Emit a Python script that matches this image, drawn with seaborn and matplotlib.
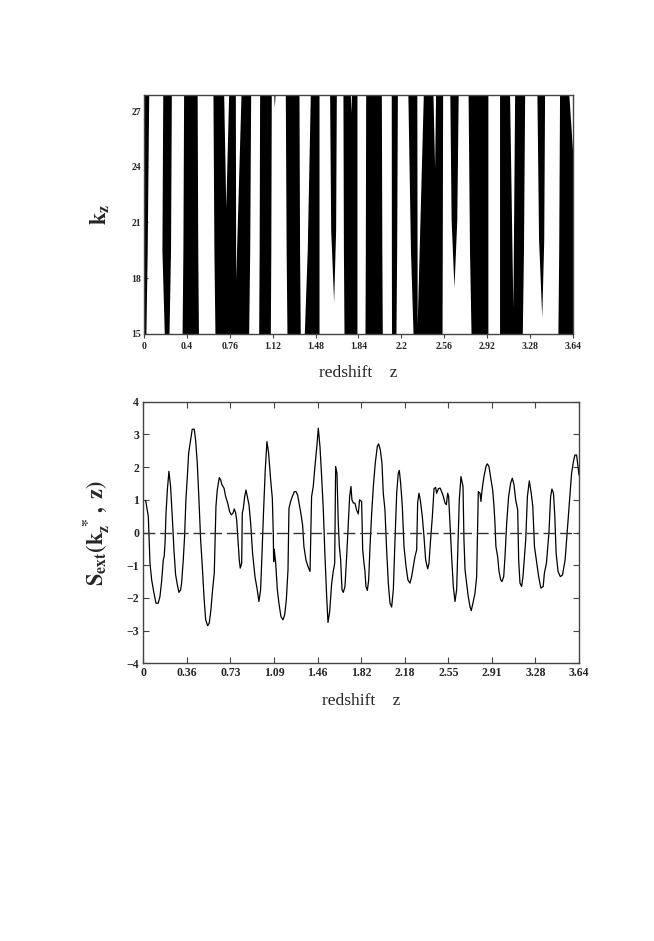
import numpy as np
import pandas as pd
import matplotlib
matplotlib.use("Agg")
import matplotlib.pyplot as plt
import seaborn as sns

# --- dane: gorny panel (pasma czarne, z vs k_z) ---
K_TOP = 27.86
K_BOT = 15.0

band_left_top = [0.000, 0.159, 0.336, 0.585, 1.101, 0.981, 1.199, 1.411, 1.575, 1.688, 1.881, 2.098, 2.239, 2.595, 2.750, 3.017, 3.334, 3.526]
band_left_mid = [0.000, 0.152, 0.330, 0.593, 1.104, 0.977, 1.206, 1.385, 1.584, 1.692, 1.878, 2.099, 2.261, 2.606, 2.762, 3.017, 3.348, 3.519]
band_left_bot = [0.000, 0.172, 0.323, 0.602, 1.106, 0.973, 1.213, 1.360, 1.609, 1.697, 1.875, 2.100, 2.283, 2.630, 2.775, 3.017, 3.375, 3.512]
band_right_top = [0.040, 0.232, 0.451, 0.905, 1.112, 1.080, 1.315, 1.485, 1.632, 1.807, 2.014, 2.150, 2.534, 2.666, 2.918, 3.230, 3.399, 3.640]
band_right_mid = [0.027, 0.225, 0.456, 0.897, 1.108, 1.076, 1.320, 1.485, 1.626, 1.807, 2.018, 2.144, 2.531, 2.654, 2.918, 3.220, 3.392, 3.640]
band_right_bot = [0.016, 0.212, 0.462, 0.888, 1.106, 1.072, 1.326, 1.485, 1.609, 1.807, 2.022, 2.138, 2.529, 2.630, 2.918, 3.210, 3.375, 3.640]
band_k_bot = [15.0, 15.0, 15.0, 15.0, 27.2, 15.0, 15.0, 15.0, 16.7, 15.0, 15.0, 15.0, 15.0, 17.5, 15.0, 15.0, 15.9, 15.0]

# biale kliny schodzace od gory
wedge_left_top = [0.676, 0.775, 1.751, 2.315, 2.452, 3.102, 3.605]
wedge_right_top = [0.718, 0.823, 1.760, 2.370, 2.474, 3.145, 3.650]
wedge_tip_z = [0.694, 0.778, 1.755, 2.318, 2.466, 3.130, 3.640]
wedge_tip_k = [21.8, 17.9, 26.9, 15.5, 23.9, 16.4, 24.5]

top_tick_labels = ['0', '0.4', '0.76', '1.12', '1.48', '1.84', '2.2', '2.56', '2.92', '3.28', '3.64']
top_yticks = [15, 18, 21, 24, 27]

# --- dane: dolny panel S_ext(k_z*, z) ---
z_curve = [
    0.020, 0.042, 0.056, 0.070, 0.084, 0.106, 0.125, 0.139, 0.153, 0.167,
    0.175, 0.182, 0.190, 0.201, 0.214, 0.228, 0.245, 0.256, 0.270, 0.287,
    0.298, 0.312, 0.320, 0.334, 0.345, 0.356, 0.368, 0.379, 0.395, 0.409,
    0.426, 0.437, 0.451, 0.465, 0.479, 0.493, 0.507, 0.521, 0.538, 0.551,
    0.565, 0.579, 0.593, 0.607, 0.618, 0.635, 0.646, 0.657, 0.674, 0.688,
    0.705, 0.721, 0.735, 0.749, 0.760, 0.771, 0.780, 0.791, 0.802, 0.810,
    0.822, 0.827, 0.836, 0.847, 0.858, 0.869, 0.883, 0.897, 0.913, 0.933,
    0.952, 0.966, 0.980, 0.991, 1.003, 1.019, 1.033, 1.047, 1.064, 1.078,
    1.086, 1.089, 1.094, 1.106, 1.120, 1.133, 1.150, 1.167, 1.181, 1.195,
    1.209, 1.217, 1.231, 1.245, 1.262, 1.276, 1.289, 1.301, 1.314, 1.331,
    1.342, 1.359, 1.376, 1.393, 1.406, 1.420, 1.434, 1.451, 1.462, 1.476,
    1.490, 1.504, 1.518, 1.532, 1.543, 1.557, 1.574, 1.587, 1.599, 1.607,
    1.618, 1.629, 1.638, 1.649, 1.660, 1.671, 1.685, 1.699, 1.713, 1.724,
    1.735, 1.743, 1.755, 1.768, 1.782, 1.796, 1.807, 1.824, 1.833, 1.844,
    1.852, 1.860, 1.872, 1.883, 1.894, 1.908, 1.922, 1.938, 1.955, 1.966,
    1.980, 1.994, 2.005, 2.019, 2.033, 2.047, 2.061, 2.075, 2.089, 2.103,
    2.117, 2.130, 2.139, 2.150, 2.164, 2.178, 2.195, 2.211, 2.228, 2.242,
    2.256, 2.270, 2.284, 2.292, 2.303, 2.314, 2.331, 2.345, 2.359, 2.376,
    2.387, 2.398, 2.415, 2.429, 2.442, 2.451, 2.465, 2.479, 2.493, 2.507,
    2.521, 2.532, 2.543, 2.551, 2.562, 2.576, 2.590, 2.604, 2.618, 2.629,
    2.640, 2.654, 2.671, 2.679, 2.688, 2.701, 2.715, 2.729, 2.740, 2.754,
    2.771, 2.785, 2.799, 2.813, 2.821, 2.830, 2.846, 2.863, 2.874, 2.888,
    2.905, 2.919, 2.930, 2.938, 2.946, 2.960, 2.972, 2.986, 2.997, 3.011,
    3.022, 3.036, 3.052, 3.069, 3.083, 3.097, 3.111, 3.119, 3.128, 3.136,
    3.147, 3.161, 3.172, 3.195, 3.209, 3.225, 3.241, 3.254, 3.268, 3.287,
    3.303, 3.322, 3.341, 3.351, 3.368, 3.389, 3.403, 3.414, 3.427, 3.438,
    3.449, 3.465, 3.484, 3.502, 3.524, 3.551, 3.565, 3.578, 3.595, 3.606,
    3.620, 3.632, 3.640]
s_curve = [
    0.97, 0.49, -0.94, -1.45, -1.75, -2.16, -2.16, -1.96, -1.50, -0.84,
    -0.71, -0.30, 0.60, 1.30, 1.87, 1.41, 0.29, -0.53, -1.29, -1.65,
    -1.83, -1.75, -1.55, -0.84, -0.12, 1.00, 1.71, 2.43, 2.83, 3.16,
    3.16, 2.83, 2.12, 1.00, -0.22, -1.04, -1.96, -2.67, -2.85, -2.77,
    -2.36, -1.75, -1.24, 0.80, 1.30, 1.68, 1.61, 1.46, 1.36, 1.10,
    0.90, 0.64, 0.54, 0.59, 0.72, 0.61, 0.39, -0.22, -0.84, -1.09,
    -0.94, 0.59, 0.74, 1.10, 1.30, 1.10, 0.85, 0.29, -0.63, -1.35,
    -1.75, -2.11, -1.75, -0.73, 0.49, 1.92, 2.78, 2.43, 1.61, 1.05,
    -0.02, -0.89, -0.51, -0.94, -1.75, -2.16, -2.57, -2.67, -2.52, -2.06,
    -1.14, 0.74, 0.95, 1.10, 1.25, 1.25, 1.15, 0.90, 0.64, 0.23,
    -0.43, -0.84, -1.04, -1.19, 1.10, 1.41, 2.02, 2.68, 3.19, 2.63,
    1.71, 0.69, -0.73, -1.96, -2.75, -2.42, -1.55, -1.19, -0.94, 2.02,
    1.81, 0.29, -0.43, -0.84, -1.75, -1.83, -1.65, -0.73, 0.29, 1.10,
    1.41, 1.00, 0.90, 0.90, 0.69, 0.57, 1.00, 0.95, -0.53, -0.94,
    -1.19, -1.65, -1.77, -1.45, -0.43, 0.59, 1.41, 2.12, 2.63, 2.71,
    2.53, 2.12, 1.20, 0.69, -0.53, -1.55, -2.16, -2.28, -1.75, -0.22,
    1.20, 1.81, 1.90, 1.51, 0.80, -0.43, -1.04, -1.45, -1.55, -1.35,
    -1.04, -0.73, -0.53, 0.90, 1.20, 1.00, 0.49, -0.12, -0.84, -1.11,
    -0.94, -0.33, 0.49, 1.34, 1.38, 1.20, 1.34, 1.36, 1.25, 1.10,
    0.90, 0.85, 1.20, 1.10, 0.29, -0.73, -1.65, -2.11, -1.75, -0.43,
    1.00, 1.71, 1.41, -0.22, -1.14, -1.55, -1.96, -2.26, -2.39, -2.16,
    -1.86, -1.35, 1.25, 1.20, 0.95, 1.30, 1.71, 2.02, 2.10, 2.02,
    1.61, 1.30, 0.80, 0.29, -0.43, -0.73, -1.19, -1.45, -1.50, -1.35,
    -0.73, 0.29, 1.10, 1.51, 1.66, 1.46, 1.00, 0.85, 0.69, -0.84,
    -1.55, -1.65, -1.35, -0.22, 1.10, 1.58, 1.20, 0.80, -0.43, -0.94,
    -1.35, -1.70, -1.65, -1.24, -0.94, 0.00, 1.10, 1.33, 1.20, 0.49,
    -0.63, -1.19, -1.35, -1.30, -0.84, 0.49, 1.20, 1.81, 2.20, 2.37,
    2.37, 2.00, 1.76]

bottom_tick_labels = ['0', '0.36', '0.73', '1.09', '1.46', '1.82', '2.18', '2.55', '2.91', '3.28', '3.64']
bottom_yticks = [-4, -3, -2, -1, 0, 1, 2, 3, 4]

# --- styl ---
sns.set_style("ticks")
plt.rcParams['font.family'] = ['Liberation Serif', 'DejaVu Serif']
plt.rcParams['mathtext.fontset'] = 'stix'
FRAME = '#444444'

fig = plt.figure(figsize=(6.54, 9.41), dpi=100)
ax1 = fig.add_axes([0.2202, 0.6451, 0.6559, 0.2539])
ax2 = fig.add_axes([0.2191, 0.2951, 0.6662, 0.2780])

# GORNY PANEL - czarne pasma i biale kliny
for i in range(len(band_k_bot)):
    kb = band_k_bot[i]
    km = kb + 0.35 * (K_TOP - kb)
    ax1.fill_betweenx([K_TOP, km, kb],
                      [band_left_top[i], band_left_mid[i], band_left_bot[i]],
                      [band_right_top[i], band_right_mid[i], band_right_bot[i]],
                      color='black', lw=0)
for i in range(len(wedge_tip_k)):
    ax1.fill_betweenx([K_TOP, wedge_tip_k[i]],
                      [wedge_left_top[i], wedge_tip_z[i]],
                      [wedge_right_top[i], wedge_tip_z[i]],
                      color='white', lw=0)

ax1.set_xlim(0, 3.64)
ax1.set_ylim(K_BOT, K_TOP)
ax1.set_xticks(np.linspace(0, 3.64, 11))
ax1.set_xticklabels(top_tick_labels)
ax1.set_yticks(top_yticks)
ax1.tick_params(axis='x', direction='out', length=3, width=0.8, color=FRAME,
                labelsize=7, pad=3)
ax1.tick_params(axis='y', direction='in', length=3, width=0.8, color=FRAME,
                labelsize=7, pad=2)
for lab in ax1.get_xticklabels() + ax1.get_yticklabels():
    lab.set_fontweight('bold')
ax1.set_xlabel('redshift    z', fontsize=12.5)
ax1.xaxis.set_label_coords(0.5, -0.128)
ax1.set_ylabel(r'$\mathbf{k_z}$', fontsize=16)
ax1.yaxis.set_label_coords(-0.075, 0.5)

# DOLNY PANEL
df = pd.DataFrame({'z': z_curve, 'S': s_curve})
sns.lineplot(data=df, x='z', y='S', ax=ax2, color='black', lw=0.9,
             sort=False, estimator=None)
ax2.axhline(0, color='#333333', lw=1.0, ls=(0, (8.5, 3.5)))
ax2.set_xlim(0, 3.64)
ax2.set_ylim(-4, 4)
ax2.set_xticks(np.linspace(0, 3.64, 11))
ax2.set_xticklabels(bottom_tick_labels)
ax2.set_yticks(bottom_yticks)
ax2.tick_params(direction='in', length=4, width=0.8, color=FRAME,
                top=True, right=True, labelsize=8.5, pad=3)
for lab in ax2.get_xticklabels() + ax2.get_yticklabels():
    lab.set_fontweight('bold')
ax2.set_xlabel('redshift    z', fontsize=12.5)
ax2.xaxis.set_label_coords(0.5, -0.112)
ax2.set_ylabel(r'$\mathbf{S_{ext}(k_z^{\ *}\,,\ z)}$', fontsize=16)
ax2.yaxis.set_label_coords(-0.072, 0.5)

for ax in (ax1, ax2):
    for sp in ax.spines.values():
        sp.set_color(FRAME)
        sp.set_linewidth(1.0)
        sp.set_visible(True)

fig.savefig('out.png', dpi=100, facecolor='white')
